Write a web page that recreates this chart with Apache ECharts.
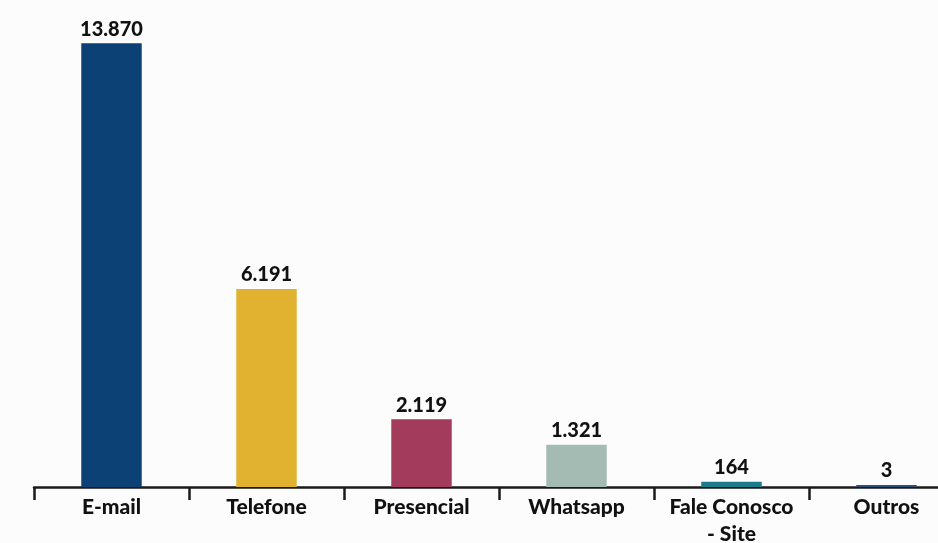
<!DOCTYPE html>
<html>
<head>
<meta charset="utf-8">
<script src="https://cdn.jsdelivr.net/npm/echarts@6/dist/echarts.min.js"></script>
<style>
  html, body { margin: 0; padding: 0; background: #fcfcfc; }
  #chart { width: 938px; height: 543px; }
</style>
</head>
<body>
<div id="chart"></div>
<script>
// canais de atendimento
var categorias = ['E-mail', 'Telefone', 'Presencial', 'Whatsapp', 'Fale Conosco - Site', 'Outros'];
var valores = [13870, 6191, 2119, 1321, 164, 3];
var cores = ['#0b4174', '#e0b22f', '#a33b5c', '#a4bbb3', '#1e7a8a', '#2b4f7c'];

// formato 13.870
function fmt(v) {
    return String(v).replace(/\B(?=(\d{3})+(?!\d))/g, '.');
}

var seriesData = [];
for (var i = 0; i < valores.length; i++) {
    seriesData.push({
        value: valores[i],
        itemStyle: { color: cores[i] }
    });
}

var myChart = echarts.init(document.getElementById('chart'));

var option = {
    backgroundColor: '#fcfcfc',
    textStyle: { fontFamily: 'Lato, "Open Sans", sans-serif' },
    grid: {
        left: 34,
        right: -26,
        top: 39,
        bottom: 56,
        containLabel: false,
        outerBoundsMode: 'none'
    },
    xAxis: {
        type: 'category',
        data: categorias,
        axisLine: { show: true, lineStyle: { color: '#1a1a1a', width: 2.5 } },
        axisTick: { show: true, length: 13, lineStyle: { color: '#1a1a1a', width: 2.5 } },
        axisLabel: {
            interval: 0,
            color: '#111',
            fontSize: 21,
            fontWeight: 900,
            margin: 7,
            lineHeight: 27,
            formatter: function (v) {
                return v.replace(' - ', '\n- ');
            }
        }
    },
    yAxis: {
        type: 'value',
        min: 0,
        max: 14000,
        show: false,
        splitLine: { show: false }
    },
    series: [
        {
            type: 'bar',
            data: seriesData,
            barWidth: '39%',
            barMinHeight: 2,
            label: {
                show: true,
                position: 'top',
                distance: 4,
                color: '#111',
                fontSize: 20,
                fontWeight: 900,
                formatter: function (p) {
                    return fmt(p.value);
                }
            }
        }
    ]
};

myChart.setOption(option);
</script>
</body>
</html>
